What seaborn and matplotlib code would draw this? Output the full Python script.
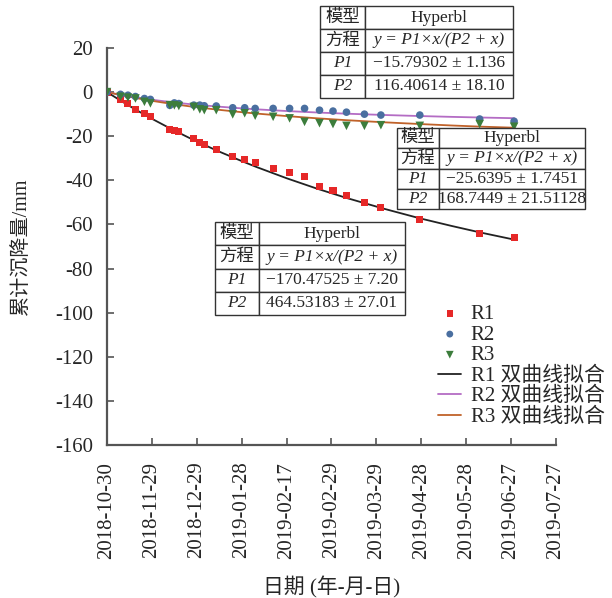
import matplotlib
matplotlib.use("Agg")
import matplotlib.pyplot as plt
import seaborn as sns
import pandas as pd

# ---------------- data ----------------
days = [0, 9, 14, 19, 25, 29, 42, 45, 48, 58, 62, 65, 73, 84, 92, 99, 111, 122,
        132, 142, 151, 160, 172, 183, 209, 249, 272]
r1 = [0, -3.3, -5.1, -7.7, -9.7, -11.2, -16.9, -17.2, -18.0, -21.2, -22.7, -23.7,
      -25.9, -29.0, -30.5, -31.9, -34.6, -36.4, -38.1, -42.9, -44.7, -47.0, -50.2,
      -52.4, -57.7, -64.3, -66.1]
r2 = [0, -1.0, -1.4, -2.0, -2.9, -3.3, -6.0, -4.9, -5.2, -5.9, -5.9, -6.2, -6.3,
      -7.1, -7.1, -7.4, -7.4, -7.4, -7.4, -8.2, -8.6, -9.1, -10.0, -10.4, -10.4,
      -12.2, -13.2]
r3 = [0, -2.1, -2.5, -2.9, -4.4, -5.1, -5.9, -6.0, -6.3, -6.7, -7.8, -8.2, -8.2,
      -10.1, -9.6, -10.7, -11.2, -11.9, -13.5, -14.1, -14.5, -15.3, -15.3, -15.0,
      -15.3, -14.5, -15.7]

fit_days = [0, 10, 20, 30, 42, 55, 73, 90, 100, 120, 140, 160, 185, 209, 230, 249, 272]
fit_r1 = [0, -4.25, -8.27, -12.08, -16.39, -20.77, -26.4, -31.27, -33.99, -39.05,
          -43.7, -47.98, -52.87, -57.22, -60.64, -63.58, -66.87]
fit_r2 = [0, -1.34, -2.48, -3.46, -4.48, -5.42, -6.51, -7.37, -7.81, -8.58, -9.23,
          -9.78, -10.37, -10.85, -11.22, -11.51, -11.83]
fit_r3 = [0, -1.46, -2.77, -3.95, -5.21, -6.43, -7.9, -9.1, -9.73, -10.87, -11.86,
          -12.73, -13.68, -14.47, -15.12, -15.64, -16.14]

x_ticks = [0, 30, 60, 90, 120, 150, 180, 210, 240, 270, 300]
x_ticklabels = ["2018-10-30", "2018-11-29", "2018-12-29", "2019-01-28", "2019-02-17",
                "2019-02-29", "2019-03-29", "2019-04-28", "2019-05-28", "2019-06-27",
                "2019-07-27"]
y_ticks = [20, 0, -20, -40, -60, -80, -100, -120, -140, -160]

table_r2 = [["模型", "Hyperbl"], ["方程", "y = P1×x/(P2 + x)"],
            ["P1", "\u221215.79302 ± 1.136"], ["P2", "116.40614 ± 18.10"]]
table_r3 = [["模型", "Hyperbl"], ["方程", "y = P1×x/(P2 + x)"],
            ["P1", "\u221225.6395 ± 1.7451"], ["P2", "168.7449 ± 21.51128"]]
table_r1 = [["模型", "Hyperbl"], ["方程", "y = P1×x/(P2 + x)"],
            ["P1", "\u2212170.47525 ± 7.20"], ["P2", "464.53183 ± 27.01"]]

# ---------------- style ----------------
sns.set_theme(style="ticks")
plt.rcParams["font.family"] = ["Liberation Serif", "Noto Sans CJK SC"]
plt.rcParams["axes.unicode_minus"] = False

c_r1, c_r2, c_r3 = "#e62828", "#4a6fa0", "#3c7d3c"
l_r1, l_r2, l_r3 = "#222222", "#b46cc4", "#c0622a"

fig = plt.figure(figsize=(6.12, 5.98), dpi=100)
ax = fig.add_axes([107 / 612, 1 - 445 / 598, 449 / 612, 397 / 598])

df = pd.DataFrame({"day": days, "R1": r1, "R2": r2, "R3": r3})
fdf = pd.DataFrame({"day": fit_days, "R1": fit_r1, "R2": fit_r2, "R3": fit_r3})

sns.lineplot(data=fdf, x="day", y="R1", color=l_r1, lw=1.3, ax=ax, sort=False,
             estimator=None, label="R1 双曲线拟合", zorder=2)
sns.lineplot(data=fdf, x="day", y="R2", color=l_r2, lw=1.3, ax=ax, sort=False,
             estimator=None, label="R2 双曲线拟合", zorder=2)
sns.lineplot(data=fdf, x="day", y="R3", color=l_r3, lw=1.3, ax=ax, sort=False,
             estimator=None, label="R3 双曲线拟合", zorder=2)

sns.scatterplot(data=df, x="day", y="R1", marker="s", color=c_r1, s=26,
                edgecolor="none", ax=ax, label="R1", zorder=3)
sns.scatterplot(data=df, x="day", y="R2", marker="o", color=c_r2, s=30,
                edgecolor="none", ax=ax, label="R2", zorder=3)
sns.scatterplot(data=df, x="day", y="R3", marker="v", color=c_r3, s=38,
                edgecolor="none", ax=ax, label="R3", zorder=3)

ax.set_xlim(0, 300)
ax.set_ylim(-160, 20)
ax.set_xticks(x_ticks)
ax.set_xticklabels(x_ticklabels, rotation=90, fontsize=15)
ax.set_yticks(y_ticks)
ax.set_yticklabels([str(v) for v in y_ticks], fontsize=15)
ax.tick_params(direction="in", length=5, width=1.2, color="#555555")
ax.tick_params(axis="x", pad=12)
ax.tick_params(axis="y", pad=10)
for s in ["top", "right"]:
    ax.spines[s].set_visible(False)
for s in ["left", "bottom"]:
    ax.spines[s].set_color("#555555")
    ax.spines[s].set_linewidth(1.6)

ax.set_xlabel("日期 (年-月-日)", fontsize=15, labelpad=13)
ax.set_ylabel("累计沉降量/mm", fontsize=14.5, labelpad=17)

# legend
h, l = ax.get_legend_handles_labels()
order = ["R1", "R2", "R3", "R1 双曲线拟合", "R2 双曲线拟合", "R3 双曲线拟合"]
hd = dict(zip(l, h))
leg = ax.legend([hd[k] for k in order], order, loc="upper left",
                bbox_to_anchor=(430 / 612, 1 - 296 / 598),
                bbox_transform=fig.transFigure, frameon=False, fontsize=15,
                handlelength=1.1, handletextpad=0.45, labelspacing=0.05,
                borderaxespad=0, markerscale=0.9)


def draw_table(rows, px_left, px_right, px_top, px_bottom, px_split):
    x0 = (px_left - 107) / 449
    w = (px_right - px_left) / 449
    y0 = (445 - px_bottom) / 397
    hgt = (px_bottom - px_top) / 397
    frac = (px_split - px_left) / (px_right - px_left)
    tb = ax.table(cellText=rows, colWidths=[frac, 1 - frac], cellLoc="center",
                  bbox=[x0, y0, w, hgt], zorder=5)
    tb.auto_set_font_size(False)
    for (r, c), cell in tb.get_celld().items():
        cell.set_edgecolor("#333333")
        cell.set_linewidth(1.0)
        cell.set_facecolor("white")
        txt = cell.get_text()
        txt.set_fontsize(12.5)
        if (c == 0 and r >= 2) or (c == 1 and r == 1):
            txt.set_fontstyle("italic")
    return tb


draw_table(table_r2, 320, 513, 6, 98, 365)
draw_table(table_r3, 397, 585, 128, 209, 439)
draw_table(table_r1, 215, 405, 222, 315, 259)

fig.savefig("out.png", dpi=100)
